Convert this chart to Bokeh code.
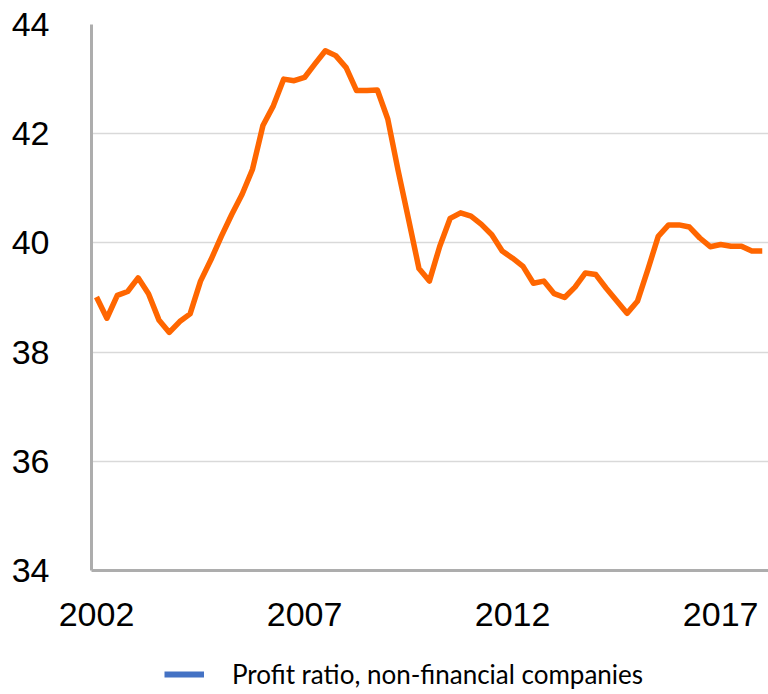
from bokeh.plotting import figure
from bokeh.layouts import column
from bokeh.models import FixedTicker, Legend, LegendItem, ColumnDataSource, Range1d
from bokeh.embed import file_html
from bokeh.resources import INLINE

# Quarterly profit ratio, 2002Q1 .. 2018Q1
profit_ratio = [
    39.01, 38.62, 39.04, 39.11, 39.36, 39.07, 38.59, 38.36, 38.56, 38.70,
    39.30, 39.69, 40.12, 40.52, 40.89, 41.35, 42.15, 42.51, 43.00, 42.97,
    43.03, 43.28, 43.52, 43.43, 43.21, 42.79, 42.79, 42.80, 42.27, 41.32,
    40.43, 39.53, 39.30, 39.94, 40.45, 40.55, 40.49, 40.34, 40.15, 39.85,
    39.72, 39.57, 39.26, 39.30, 39.07, 39.00, 39.19, 39.45, 39.42, 39.17,
    38.94, 38.71, 38.93, 39.51, 40.12, 40.33, 40.33, 40.29, 40.09, 39.93,
    39.97, 39.94, 39.94, 39.85, 39.85,
]
quarter_index = list(range(len(profit_ratio)))
year_ticks = [0, 20, 40, 60]
year_labels = ["2002", "2007", "2012", "2017"]
y_ticks = [34, 36, 38, 40, 42, 44]
legend_label = "Profit ratio, non-financial companies"

p = figure(width=768, height=640, output_backend="svg", toolbar_location=None,
           x_range=Range1d(-0.48, 64.6), y_range=Range1d(34, 44),
           min_border_left=91, min_border_right=0, min_border_top=24,
           min_border_bottom=70)
p.outline_line_color = None

src = ColumnDataSource(dict(x=quarter_index, y=profit_ratio))
p.line("x", "y", source=src, line_color="#FF6600", line_width=5.5, line_join="round")

# axes
p.xaxis.ticker = FixedTicker(ticks=year_ticks)
p.xaxis.major_label_overrides = {t: l for t, l in zip(year_ticks, year_labels)}
p.yaxis.ticker = FixedTicker(ticks=y_ticks)
for ax in (p.xaxis, p.yaxis):
    ax.axis_line_color = "#ADADAD"
    ax.axis_line_width = 3
    ax.major_tick_line_color = None
    ax.minor_tick_line_color = None
    ax.major_label_text_font = "Liberation Sans"
    ax.major_label_text_font_size = "34px"
    ax.major_label_text_color = "black"
p.xaxis.major_label_standoff = 26
p.yaxis.major_label_standoff = 36

p.xgrid.grid_line_color = None
p.ygrid.grid_line_color = "#D9D9D9"
p.ygrid.grid_line_width = 1.5

# legend strip below the chart
lg = figure(width=768, height=54, output_backend="svg", toolbar_location=None,
            x_range=Range1d(0, 768), y_range=Range1d(0, 54),
            min_border=0, x_axis_location=None, y_axis_location=None)
lg.outline_line_color = None
lg.xgrid.visible = False
lg.ygrid.visible = False
# legend swatch renderer, kept outside the visible range
dummy = lg.line(x=[-100, -90], y=[-100, -100], line_color="#4472C4", line_width=6)
legend = Legend(items=[LegendItem(label=legend_label, renderers=[dummy])],
                location=(73, 4), orientation="horizontal",
                padding=0, margin=0, border_line_color=None,
                background_fill_alpha=0, glyph_width=40, label_standoff=28,
                label_text_font="Lato", label_text_font_size="26px",
                label_text_color="black")
lg.add_layout(legend, "center")

layout = column(p, lg, spacing=0)
open("out.html", "w").write(file_html(layout, INLINE))
